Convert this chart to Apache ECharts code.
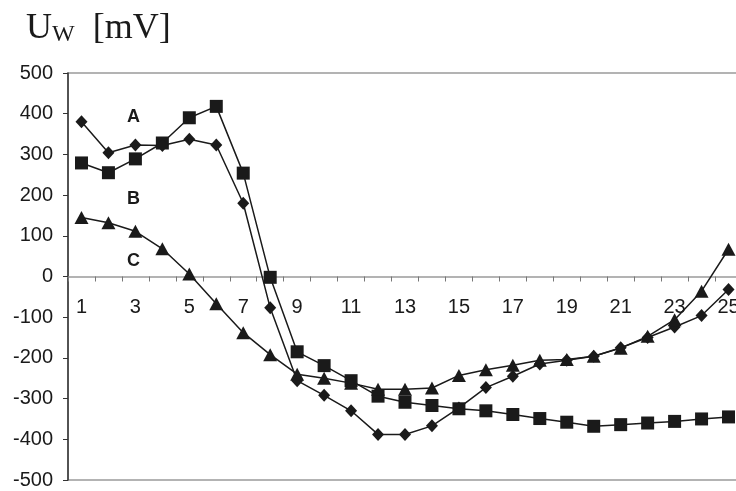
<!DOCTYPE html>
<html>
<head>
<meta charset="utf-8">
<script src="https://cdn.jsdelivr.net/npm/echarts@6/dist/echarts.min.js"></script>
<style>html,body{margin:0;padding:0;background:#fff;}#c{width:736px;height:491px;}</style>
</head>
<body>
<div id="c"></div>
<script>
var categories = ['1','2','3','4','5','6','7','8','9','10','11','12','13','14','15','16','17','18','19','20','21','22','23','24','25'];
var seriesA = [380, 304, 323, 322, 337, 323, 180, -77, -256, -292, -330, -388, -388, -367, -323, -273, -245, -215, -206, -196, -175, -150, -124, -96, -32];
var seriesB = [279, 255, 289, 328, 390, 418, 254, -2, -185, -219, -256, -294, -309, -317, -325, -330, -339, -349, -358, -368, -364, -360, -356, -350, -345];
var seriesC = [145, 132, 111, 68, 6, -67, -138, -192, -240, -250, -262, -277, -277, -274, -243, -229, -218, -206, -204, -196, -176, -147, -106, -36, 67];
var yTicks = [-500, -400, -300, -200, -100, 0, 100, 200, 300, 400, 500];

var chart = echarts.init(document.getElementById('c'), null, {renderer: 'canvas'});
var labelFont = {fontFamily: 'Liberation Sans, Arial, sans-serif', fontSize: 20, color: '#1a1a1a'};
var lineStyle = {color: '#1a1a1a', width: 1.5};
var itemStyle = {color: '#1a1a1a'};
var serif = 'Liberation Serif, Times New Roman, serif';
var gridBottom = 11;
chart.setOption({
  animation: false,
  backgroundColor: '#ffffff',
  title: {
    text: '{u|U}{w|W}{u|  [mV]}',
    left: 21, top: 6,
    textStyle: {
      fontWeight: 'normal',
      rich: {
        u: {fontFamily: serif, fontSize: 36, fontWeight: 'normal', lineHeight: 36, verticalAlign: 'top', color: '#1a1a1a'},
        w: {fontFamily: serif, fontSize: 24, fontWeight: 'normal', lineHeight: 24, verticalAlign: 'bottom', padding: [17, 0, 0, 0], color: '#1a1a1a'}
      }
    }
  },
  grid: {left: 68, right: -6, top: 73, bottom: gridBottom, show: true, borderColor: '#9a9a9a', borderWidth: 1.5, containLabel: false, outerBoundsMode: 'none'},
  xAxis: {
    type: 'category',
    data: categories,
    boundaryGap: true,
    offset: 0,
    axisLine: {onZero: false, lineStyle: {color: '#9a9a9a', width: 1.5}},
    axisTick: {show: true, inside: false, length: 5, alignWithLabel: false, interval: 0, lineStyle: {color: '#777', width: 1}},
    axisLabel: Object.assign({interval: 1, margin: 21, hideOverlap: false}, labelFont),
    splitLine: {show: false}
  },
  yAxis: {
    type: 'value',
    min: yTicks[0], max: yTicks[yTicks.length - 1], interval: 100,
    axisLine: {show: true, lineStyle: {color: '#333', width: 1.5}},
    axisTick: {show: true, length: 5, lineStyle: {color: '#333'}},
    axisLabel: Object.assign({margin: 15}, labelFont),
    splitLine: {show: false}
  },
  series: [
    {name: 'A', type: 'line', data: seriesA, symbol: 'diamond', symbolSize: [12, 13], lineStyle: lineStyle, itemStyle: itemStyle, z: 3},
    {name: 'B', type: 'line', data: seriesB, symbol: 'rect', symbolSize: 13, lineStyle: lineStyle, itemStyle: itemStyle, z: 2},
    {name: 'C', type: 'line', data: seriesC, symbol: 'triangle', symbolSize: [14, 13], lineStyle: lineStyle, itemStyle: itemStyle, z: 4}
  ],
  graphic: [
    {type: 'text', left: 127, top: 108, style: {text: 'A', font: 'bold 18px Liberation Sans, Arial, sans-serif', fill: '#1a1a1a'}},
    {type: 'text', left: 127, top: 190, style: {text: 'B', font: 'bold 18px Liberation Sans, Arial, sans-serif', fill: '#1a1a1a'}},
    {type: 'text', left: 127, top: 252, style: {text: 'C', font: 'bold 18px Liberation Sans, Arial, sans-serif', fill: '#1a1a1a'}}
  ]
});
// move the category axis onto the value 0 line, using the y scale
var zeroY = chart.convertToPixel({yAxisIndex: 0}, 0);
var bottomY = chart.getHeight() - gridBottom;
chart.setOption({xAxis: {offset: zeroY - bottomY}});
</script>
</body>
</html>
